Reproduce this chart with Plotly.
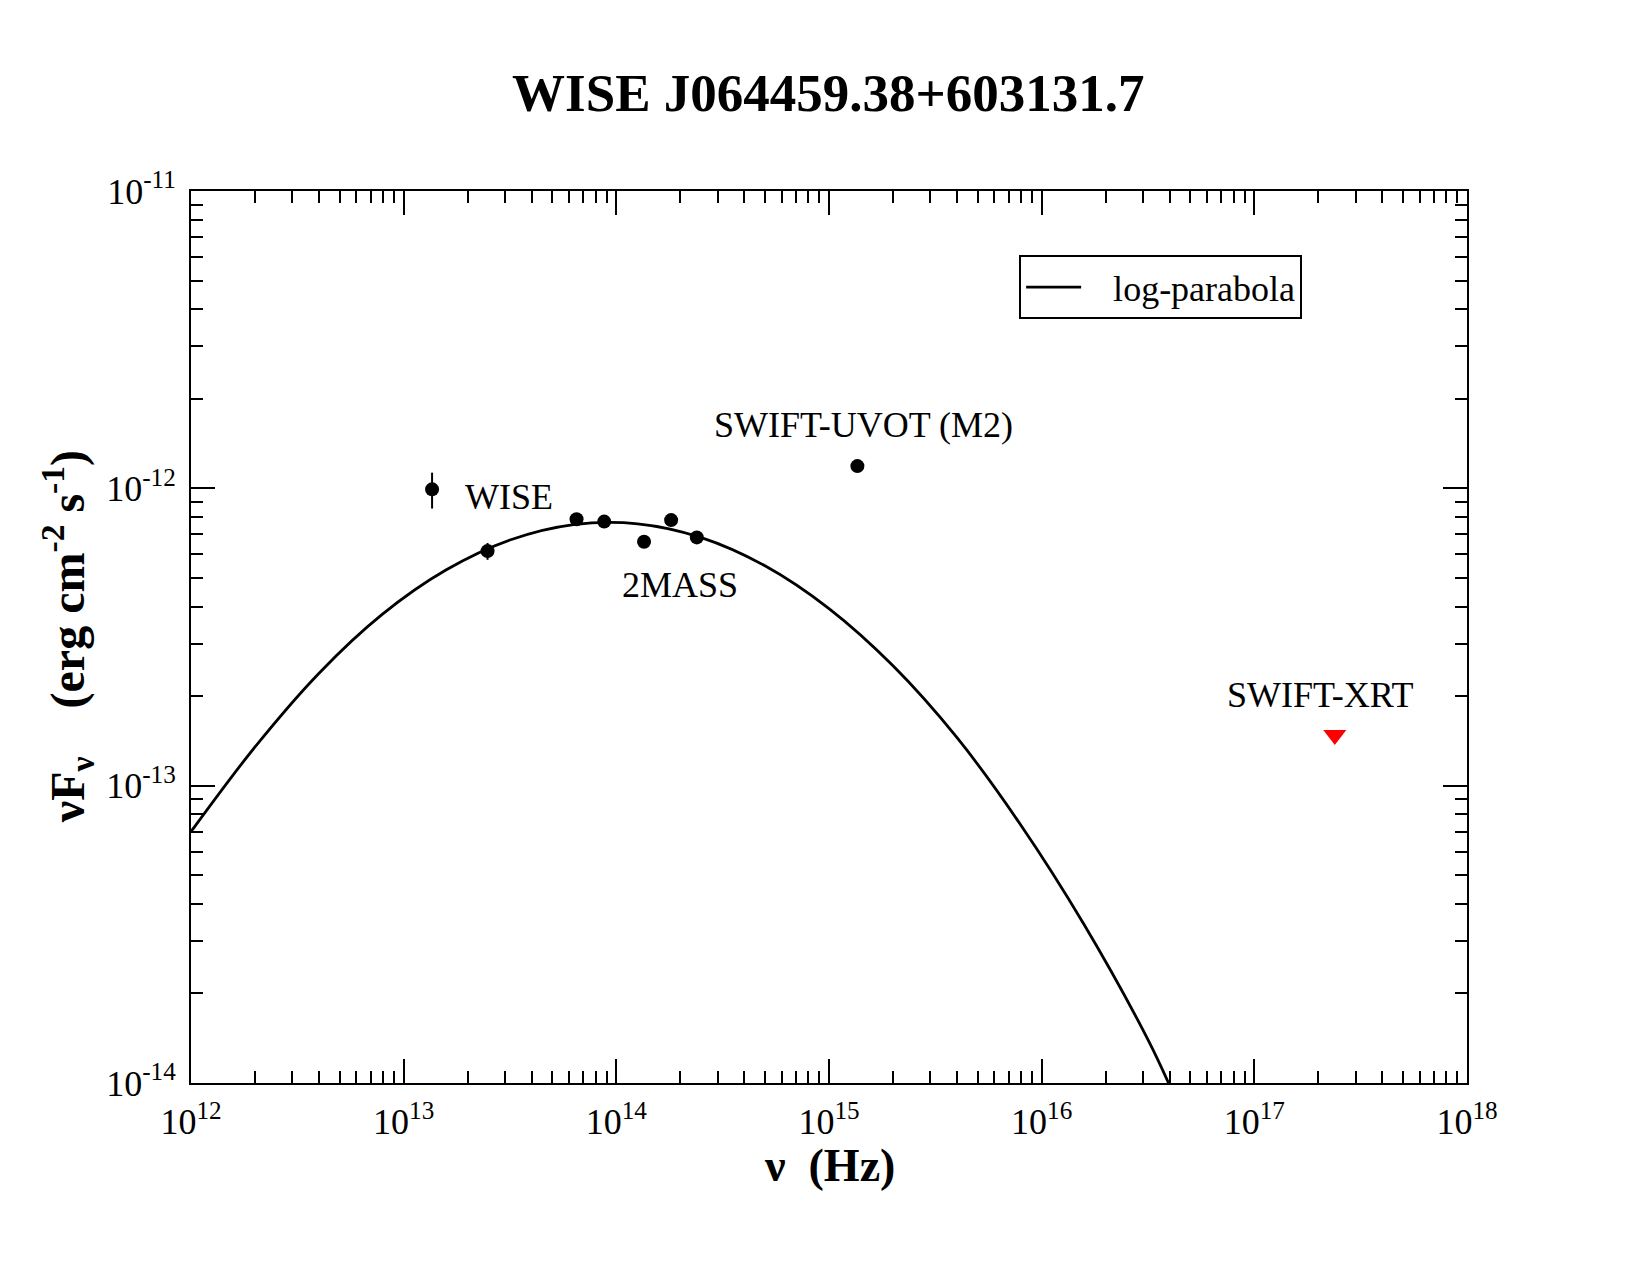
import plotly.graph_objects as go
import numpy as np

# ---- data ----
freq_wise = [1.36e13, 2.48e13]
flux_wise = [9.92e-13, 6.15e-13]
err_wise = [1.37e-13, 4.0e-14]

freq_nir = [6.5e13, 8.77e13, 1.35e14, 1.81e14, 2.39e14]
flux_nir = [7.87e-13, 7.73e-13, 6.61e-13, 7.82e-13, 6.84e-13]

freq_uvot = [1.36e15]
flux_uvot = [1.188e-12]

freq_xrt = [2.39e17]
flux_xrt = [1.48e-13]

# log-parabola curve at roughly even steps in frequency
curve_freq = [1.0e12, 2.0e12, 4.0e12, 7.9e12, 1.58e13, 3.16e13, 6.3e13, 1.26e14,
              2.51e14, 5.0e14, 1.0e15, 2.0e15, 4.0e15, 7.9e15, 1.58e16, 3.16e16, 3.95e16]
curve_flux = [7.0e-14, 1.35e-13, 2.39e-13, 3.76e-13, 5.31e-13, 6.70e-13, 7.55e-13, 7.60e-13,
              6.83e-13, 5.49e-13, 3.94e-13, 2.53e-13, 1.45e-13, 7.45e-14, 3.42e-14, 1.40e-14, 1.0e-14]

x_ticks = [1e12, 1e13, 1e14, 1e15, 1e16, 1e17, 1e18]
x_ticktext = ["10<sup>12</sup>", "10<sup>13</sup>", "10<sup>14</sup>", "10<sup>15</sup>",
              "10<sup>16</sup>", "10<sup>17</sup>", "10<sup>18</sup>"]
y_ticks = [1e-14, 1e-13, 1e-12, 1e-11]
y_ticktext = ["10<sup>-14</sup>", "10<sup>-13</sup>", "10<sup>-12</sup>", "10<sup>-11</sup>"]

labels = [
    ("WISE", 3.13e13, 9.35e-13),
    ("2MASS", 1.99e14, 4.73e-13),
    ("SWIFT-UVOT (M2)", 1.445e15, 1.633e-12),
    ("SWIFT-XRT", 2.04e17, 2.02e-13),
]

FONT = "Liberation Serif"

fig = go.Figure()

fig.add_trace(go.Scatter(
    x=curve_freq, y=curve_flux, mode="lines", name="   log-parabola",
    line=dict(color="black", width=2.8, shape="spline", smoothing=1.0),
))

fig.add_trace(go.Scatter(
    x=freq_wise, y=flux_wise, mode="markers", showlegend=False,
    marker=dict(color="black", size=14, symbol="circle"),
    error_y=dict(type="data", array=err_wise, color="black", thickness=2, width=0),
))
fig.add_trace(go.Scatter(
    x=freq_nir, y=flux_nir, mode="markers", showlegend=False,
    marker=dict(color="black", size=14, symbol="circle"),
))
fig.add_trace(go.Scatter(
    x=freq_uvot, y=flux_uvot, mode="markers", showlegend=False,
    marker=dict(color="black", size=14, symbol="circle"),
))
fig.add_trace(go.Scatter(
    x=freq_xrt, y=flux_xrt, mode="markers", showlegend=False,
    marker=dict(color="red", size=20, symbol="triangle-down", line=dict(width=0)),
))

for txt, xv, yv in labels:
    fig.add_annotation(x=np.log10(xv), y=np.log10(yv), xref="x", yref="y", text=txt,
                       showarrow=False, font=dict(family=FONT, size=36, color="black"),
                       xanchor="center", yanchor="middle")

axis_common = dict(
    type="log", showgrid=False, zeroline=False,
    showline=True, linewidth=2, linecolor="black", mirror="allticks",
    ticks="inside", ticklen=24, tickwidth=2, tickcolor="black",
    tickfont=dict(family=FONT, size=36, color="black"),
    minor=dict(ticks="inside", ticklen=12, tickwidth=2, tickcolor="black", dtick="D1", showgrid=False),
)

fig.update_xaxes(range=[12, 18], tickmode="array", tickvals=x_ticks, ticktext=x_ticktext,
                 ticklabelstandoff=6, **axis_common)
fig.update_yaxes(range=[-14, -11], tickmode="array", tickvals=y_ticks, ticktext=y_ticktext,
                 ticklabelstandoff=6, **axis_common)

# axis titles
fig.add_annotation(x=0.5, y=-0.093, xref="paper", yref="paper",
                   text="<b>ν  (Hz)</b>", showarrow=False,
                   font=dict(family=FONT, size=46, color="black"),
                   xanchor="center", yanchor="middle")
fig.add_annotation(x=-0.097, y=0.5, xref="paper", yref="paper",
                   text="<b>νF<sub>ν</sub>    (erg cm<sup>-2</sup> s<sup>-1</sup>)</b>",
                   showarrow=False, textangle=-90,
                   font=dict(family=FONT, size=48, color="black"),
                   xanchor="center", yanchor="middle")

fig.update_layout(
    width=1650, height=1275,
    margin=dict(l=191, r=183, t=191, b=192, autoexpand=False),
    paper_bgcolor="white", plot_bgcolor="white",
    title=dict(text="<b>WISE J064459.38+603131.7</b>", x=0.502, xanchor="center",
               y=1 - 92 / 1275, yanchor="middle", yref="container",
               font=dict(family=FONT, size=53, color="black")),
    legend=dict(x=0.649, y=0.928, xanchor="left", yanchor="top",
                bordercolor="black", borderwidth=2, bgcolor="white",
                font=dict(family=FONT, size=36, color="black"),
                itemwidth=55, tracegroupgap=0),
    font=dict(family=FONT, color="black"),
)

fig.write_html("out.html")
